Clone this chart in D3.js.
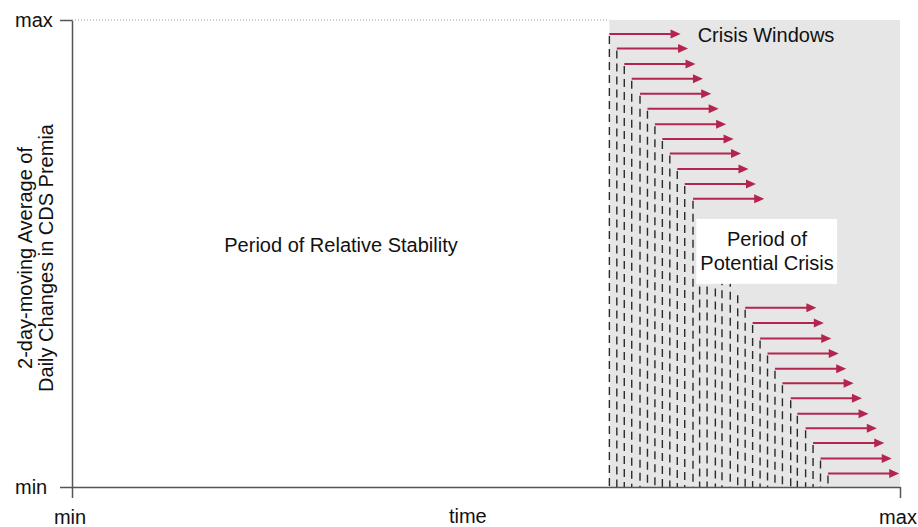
<!DOCTYPE html>
<html>
<head>
<meta charset="utf-8">
<script src="https://cdn.jsdelivr.net/npm/d3@7"></script>
<style>
	body { margin: 0; background: #fff; }
	text { font-family: "Liberation Sans", Arial, sans-serif; fill: #111; }
</style>
</head>
<body>
<div id="chart"></div>
<script>
"use strict";

// Time axis runs 0 (min) .. 100 (max), CDS axis runs 0 (min) .. 100 (max).
var windowStart = [64.9, 65.8, 66.7, 67.6, 68.6, 69.5, 70.4, 71.3, 72.2, 73.1, 74.0, 75.0,
	75.8, 76.7, 77.7, 78.5, 79.5, 80.4,
	81.3, 82.2, 83.1, 84.0, 84.9, 85.8, 86.8, 87.6, 88.6, 89.5, 90.4, 91.3];
var windowLevel = [97.0, 93.9, 90.6, 87.4, 84.2, 81.0, 77.7, 74.5, 71.4, 68.1, 64.9, 61.7,
	57.3, 54.5, 51.3, 48.1, 45.0, 41.5,
	38.4, 35.1, 31.8, 28.6, 25.3, 22.2, 19.0, 15.7, 12.6, 9.4, 6.1, 2.9];
var windowArrow = [1, 1, 1, 1, 1, 1, 1, 1, 1, 1, 1, 1,
	0, 0, 0, 0, 0, 0,
	1, 1, 1, 1, 1, 1, 1, 1, 1, 1, 1, 1];
var windowLength = 8.6;
var stableEnd = 64.9;
var xTickValues = [0, 100];
var xTickLabels = ["min", "max"];
var yTickValues = [0, 100];
var yTickLabels = ["min", "max"];

var width = 918, height = 527;
var plotLeft = 72, plotRight = 900, plotTop = 20, plotBottom = 487;
var fontSize = "20px";

var x = d3.scaleLinear().domain([0, 100]).range([plotLeft, plotRight]);
var y = d3.scaleLinear().domain([0, 100]).range([plotBottom, plotTop]);

var svg = d3.select("#chart").append("svg")
	.attr("width", width)
	.attr("height", height);

// shaded crisis area
svg.append("rect")
	.attr("x", x(stableEnd))
	.attr("y", y(100))
	.attr("width", x(100) - x(stableEnd))
	.attr("height", y(0) - y(100))
	.attr("fill", "#e5e6e5");

// dotted max line over the stable period
svg.append("line")
	.attr("x1", x(0)).attr("x2", x(stableEnd))
	.attr("y1", y(100)).attr("y2", y(100))
	.attr("stroke", "#999")
	.attr("stroke-width", 1)
	.attr("stroke-dasharray", "1,2");

var windows = windowStart.map(function(d, i) {
	return { start: d, level: windowLevel[i], arrow: windowArrow[i] };
});

// dashed drop lines from each window start
svg.append("g").selectAll("line")
	.data(windows)
	.enter().append("line")
	.attr("x1", function(d) { return x(d.start); })
	.attr("x2", function(d) { return x(d.start); })
	.attr("y1", function(d) { return y(d.level) + 2; })
	.attr("y2", y(0))
	.attr("stroke", "#2a2a2a")
	.attr("stroke-width", 1.4)
	.attr("stroke-dasharray", "8,5");

// crisis window arrows
var arrowColor = "#b3244f";
var arrows = svg.append("g").selectAll("g")
	.data(windows.filter(function(d) { return d.arrow; }))
	.enter().append("g");

arrows.append("line")
	.attr("x1", function(d) { return x(d.start); })
	.attr("x2", function(d) { return x(d.start + windowLength) - 7; })
	.attr("y1", function(d) { return y(d.level); })
	.attr("y2", function(d) { return y(d.level); })
	.attr("stroke", arrowColor)
	.attr("stroke-width", 2);

arrows.append("path")
	.attr("d", function(d) {
		var tx = x(d.start + windowLength), ty = y(d.level);
		return "M" + tx + "," + ty + "L" + (tx - 10) + "," + (ty - 4.5) + "L" + (tx - 10) + "," + (ty + 4.5) + "Z";
	})
	.attr("fill", arrowColor);

// white label box
svg.append("rect")
	.attr("x", x(75.4))
	.attr("y", y(57.4))
	.attr("width", x(92.4) - x(75.4))
	.attr("height", y(43.5) - y(57.4))
	.attr("fill", "#fff");

svg.append("text")
	.attr("x", 767).attr("y", 246)
	.attr("text-anchor", "middle")
	.style("font-size", fontSize)
	.text("Period of");
svg.append("text")
	.attr("x", 767).attr("y", 270)
	.attr("text-anchor", "middle")
	.style("font-size", fontSize)
	.text("Potential Crisis");

svg.append("text")
	.attr("x", 766).attr("y", 42)
	.attr("text-anchor", "middle")
	.style("font-size", fontSize)
	.text("Crisis Windows");

svg.append("text")
	.attr("x", 341).attr("y", 252)
	.attr("text-anchor", "middle")
	.style("font-size", fontSize)
	.text("Period of Relative Stability");

// axes
var xAxis = svg.append("g")
	.attr("transform", "translate(0," + plotBottom + ")")
	.call(d3.axisBottom(x)
		.tickValues(xTickValues)
		.tickFormat(function(d, i) { return xTickLabels[i]; })
		.tickSize(11)
		.tickSizeOuter(0)
		.tickPadding(12));

var yAxis = svg.append("g")
	.attr("transform", "translate(" + plotLeft + ",0)")
	.call(d3.axisLeft(y)
		.tickValues(yTickValues)
		.tickFormat(function(d, i) { return yTickLabels[i]; })
		.tickSize(12)
		.tickSizeOuter(0));

svg.selectAll(".domain, .tick line")
	.attr("stroke", "#555")
	.attr("stroke-width", 1.5);
svg.selectAll(".tick text")
	.style("font-size", fontSize)
	.attr("font-family", null)
	.attr("fill", "#111");
xAxis.selectAll(".tick text").attr("dx", -2.5);
yAxis.selectAll(".tick text")
	.attr("text-anchor", "start")
	.attr("x", 15 - plotLeft);

svg.append("text")
	.attr("x", x(47.8)).attr("y", 523)
	.attr("text-anchor", "middle")
	.style("font-size", fontSize)
	.text("time");

// y axis title, two rotated lines
var yTitle = ["2-day-moving Average of", "Daily Changes in CDS Premia"];
svg.selectAll(".ytitle")
	.data(yTitle)
	.enter().append("text")
	.attr("class", "ytitle")
	.attr("transform", function(d, i) { return "translate(" + (32 + i * 21) + ",258) rotate(-90)"; })
	.attr("text-anchor", "middle")
	.style("font-size", fontSize)
	.text(function(d) { return d; });
</script>
</body>
</html>
